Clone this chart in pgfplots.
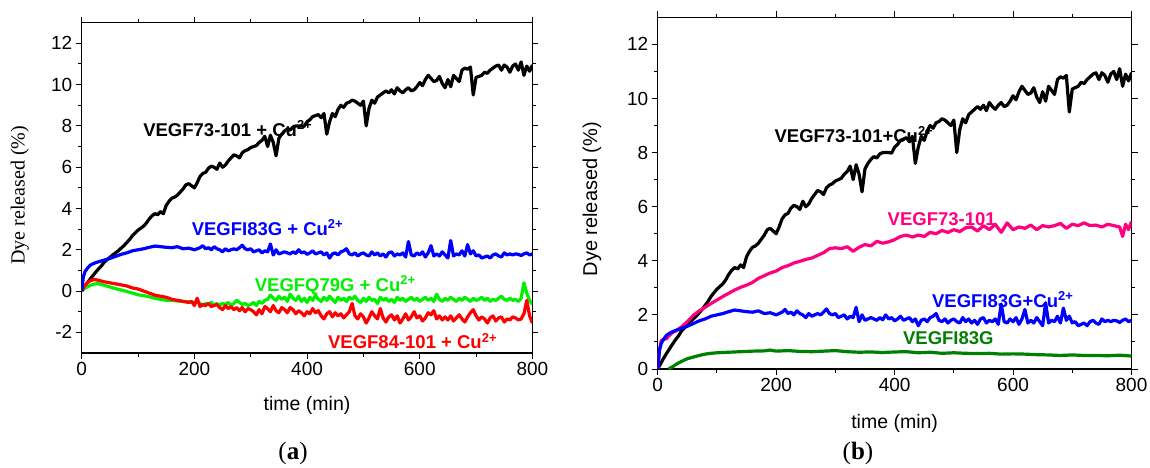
\documentclass[border=0pt]{standalone}
\usepackage{pgfplots}
\usepackage{pgfplotstable}
\pgfplotsset{compat=1.18}
\usepackage{fontspec}
\setmainfont{Liberation Sans}
\newfontfamily\tnr{Liberation Serif}
\definecolor{cblue}{RGB}{0,0,255}
\definecolor{cred}{RGB}{255,0,0}
\definecolor{clime}{RGB}{0,240,0}
\definecolor{cpink}{RGB}{255,0,128}
\definecolor{cdgreen}{RGB}{0,128,0}

\pgfplotstableread{
x y
0 0
5 0.2
10 0.4
15 0.58
20 0.75
25 0.92
30 1.08
35 1.22
40 1.4
45 1.52
50 1.63
55 1.75
60 1.85
65 1.95
70 2.08
75 2.2
80 2.35
85 2.5
90 2.68
95 2.82
100 2.95
105 3.05
110 3.15
115 3.3
120 3.5
125 3.65
130 3.75
135 3.7
140 3.85
145 3.75
150 4.15
155 4.35
160 4.5
165 4.55
170 4.65
175 4.8
180 4.95
185 5.15
190 5.2
195 5.1
200 5.0
205 5.25
210 5.55
215 5.7
220 5.75
225 5.95
230 6.05
235 6.0
240 5.9
245 6.2
250 6.0
255 6.1
260 6.3
265 6.45
270 6.6
275 6.55
280 6.45
285 6.7
290 6.8
295 6.85
300 6.95
305 7.0
310 7.05
315 7.2
320 7.3
325 7.5
330 7.0
335 7.55
340 7.2
345 6.55
350 7.4
355 7.6
360 7.75
365 7.85
370 7.8
375 7.95
380 8.0
385 8.0
390 8.0
395 7.98
400 8.2
405 8.3
410 8.45
415 8.5
420 8.55
425 8.4
430 8.6
435 7.6
440 8.2
445 8.6
450 8.45
455 8.8
460 9.0
465 8.9
470 9.1
475 9.15
480 9.25
485 9.2
490 9.1
495 9.0
500 9.2
505 8.0
510 8.85
515 9.25
520 9.1
525 9.4
530 9.5
535 9.6
540 9.7
545 9.6
550 9.75
555 9.55
560 9.85
565 9.7
570 9.6
575 9.75
580 9.85
585 9.7
590 9.75
595 9.9
600 10.1
605 9.95
610 10.25
615 10.45
620 10.3
625 10.15
630 10.2
635 10.4
640 10.05
645 9.85
650 10.25
655 9.9
660 10.45
665 10.3
670 10.15
675 10.7
680 10.8
685 10.75
690 10.85
695 9.5
700 10.35
705 10.4
710 10.45
715 10.6
720 10.55
725 10.7
730 10.8
735 10.9
740 10.95
745 10.7
750 10.95
755 10.85
760 10.6
765 10.9
770 11.0
775 10.7
780 11.1
785 10.45
790 10.9
795 10.65
800 10.95
}\blackdata

\pgfplotstableread{
x y
0 0
3 0.7
6 0.95
10 1.1
15 1.25
20 1.32
25 1.38
30 1.42
40 1.5
50 1.58
60 1.68
70 1.78
80 1.85
90 1.95
100 2.0
110 2.05
120 2.12
130 2.18
140 2.15
150 2.12
160 2.1
170 2.15
180 2.05
190 2.08
200 2.0
205 2.05
210 2.1
215 2.2
220 2.05
225 2.1
230 2.0
235 2.15
240 2.05
245 2.0
250 1.9
255 2.05
260 1.95
265 2.0
270 2.05
275 2.0
280 2.1
285 2.22
290 2.05
295 2.0
300 2.05
305 1.9
310 1.95
315 2.0
320 1.85
325 1.95
330 1.9
335 2.28
340 1.75
345 2.0
350 1.8
355 1.85
360 1.9
365 1.85
370 1.8
375 1.9
380 1.82
385 2.0
390 1.85
395 1.9
400 1.78
405 1.85
410 1.95
415 1.8
420 1.85
425 1.9
430 1.75
435 1.85
440 1.6
445 1.8
450 1.85
455 1.75
460 1.9
465 1.95
470 2.05
475 1.8
480 1.75
485 1.85
490 1.7
495 1.8
500 1.85
505 1.75
510 1.7
515 1.9
520 1.75
525 1.85
530 1.7
535 1.8
540 1.65
545 1.85
550 1.9
555 1.7
560 1.8
565 1.75
570 1.85
575 1.65
580 2.4
585 1.75
590 1.7
595 1.85
600 1.75
605 1.9
610 1.65
615 1.85
620 2.2
625 1.7
630 1.8
635 1.7
640 1.9
645 1.75
650 1.6
655 2.45
660 1.7
665 1.8
670 1.75
675 1.95
680 1.7
685 2.25
690 1.8
695 1.95
700 1.7
705 1.75
710 1.6
715 1.65
720 1.7
725 1.6
730 1.75
735 1.8
740 1.7
745 1.65
750 1.85
755 1.75
760 1.8
765 1.75
770 1.8
775 1.78
780 1.72
785 1.8
790 1.85
795 1.75
800 1.8
}\bluedata

\pgfplotstableread{
x y
0 0
5 0.25
10 0.4
15 0.5
20 0.55
25 0.55
30 0.52
40 0.45
50 0.4
60 0.35
70 0.3
80 0.25
90 0.15
100 0.1
110 0.0
120 -0.1
130 -0.2
140 -0.25
150 -0.3
160 -0.4
170 -0.45
180 -0.5
190 -0.55
195 -0.5
200 -0.7
205 -0.35
210 -0.75
215 -0.65
220 -0.7
225 -0.6
230 -0.75
240 -0.65
245 -0.8
250 -0.9
255 -0.7
260 -0.85
265 -0.75
270 -0.9
275 -0.8
280 -0.95
285 -0.8
290 -1.0
295 -0.85
300 -0.9
305 -1.0
310 -1.15
315 -0.9
320 -1.1
325 -0.75
330 -0.85
335 -1.0
340 -0.7
345 -0.95
350 -1.05
355 -0.8
360 -0.9
365 -1.05
370 -0.8
375 -0.9
380 -1.1
385 -0.95
390 -1.05
395 -1.2
400 -1.0
405 -1.1
410 -0.85
415 -1.05
420 -0.95
425 -1.2
430 -1.35
435 -1.1
440 -1.0
445 -1.25
450 -1.05
455 -1.2
460 -1.1
465 -1.3
470 -1.15
475 -1.0
480 -0.6
485 -1.2
490 -1.35
495 -1.1
500 -1.25
505 -1.55
510 -1.3
515 -1.0
520 -1.2
525 -1.35
530 -0.85
535 -1.3
540 -1.5
545 -1.25
550 -1.15
555 -1.4
560 -1.2
565 -1.55
570 -1.35
575 -1.1
580 -1.4
585 -1.25
590 -1.0
595 -1.3
600 -1.2
605 -1.45
610 -1.3
615 -1.05
620 -1.15
625 -0.95
630 -1.35
635 -1.2
640 -1.4
645 -1.25
650 -1.4
655 -1.2
660 -1.45
665 -1.3
670 -1.15
675 -1.35
680 -1.5
685 -1.25
690 -1.05
695 -0.9
700 -1.2
705 -1.4
710 -1.25
715 -1.35
720 -1.55
725 -1.3
730 -1.2
735 -1.45
740 -1.3
745 -1.25
750 -1.5
755 -1.35
760 -1.4
765 -1.25
770 -1.3
775 -1.4
780 -1.35
785 -1.1
790 -0.45
795 -1.2
800 -1.55
}\reddata

\pgfplotstableread{
x y
0 0
5 0.12
10 0.2
15 0.27
20 0.32
25 0.35
30 0.35
35 0.32
40 0.28
50 0.2
60 0.12
70 0.05
80 -0.02
90 -0.1
100 -0.18
110 -0.22
120 -0.28
130 -0.35
140 -0.4
150 -0.45
160 -0.45
170 -0.48
180 -0.5
190 -0.52
200 -0.55
205 -0.5
210 -0.6
215 -0.7
220 -0.6
225 -0.65
230 -0.55
235 -0.68
240 -0.6
245 -0.7
250 -0.6
255 -0.65
260 -0.55
265 -0.7
270 -0.6
275 -0.45
280 -0.55
285 -0.65
290 -0.6
295 -0.7
300 -0.65
305 -0.55
310 -0.7
315 -0.5
320 -0.6
325 -0.45
330 -0.4
335 -0.2
340 -0.35
345 -0.45
350 -0.25
355 -0.4
360 -0.3
365 -0.5
370 -0.15
375 -0.35
380 -0.45
385 -0.25
390 -0.5
395 -0.35
400 -0.55
405 -0.3
410 -0.45
415 -0.2
420 -0.4
425 -0.5
430 -0.3
435 -0.45
440 -0.25
445 -0.4
450 -0.55
455 -0.3
460 -0.45
465 -0.35
470 -0.5
475 -0.3
480 -0.4
485 -0.25
490 -0.45
495 -0.55
500 -0.35
505 -0.5
510 -0.3
515 -0.45
520 -0.4
525 -0.6
530 -0.3
535 -0.45
540 -0.35
545 -0.5
550 -0.4
555 -0.55
560 -0.3
565 -0.45
570 -0.35
575 -0.5
580 -0.4
585 -0.3
590 -0.45
595 -0.35
600 -0.5
605 -0.4
610 -0.3
615 -0.45
620 -0.35
625 -0.5
630 -0.15
635 -0.4
640 -0.5
645 -0.35
650 -0.45
655 -0.3
660 -0.4
665 -0.5
670 -0.35
675 -0.45
680 -0.3
685 -0.4
690 -0.5
695 -0.35
700 -0.45
705 -0.4
710 -0.3
715 -0.45
720 -0.35
725 -0.5
730 -0.4
735 -0.45
740 -0.35
745 -0.25
750 -0.4
755 -0.45
760 -0.35
765 -0.45
770 -0.4
775 -0.5
780 -0.35
785 0.4
790 -0.1
795 -0.45
800 -0.65
}\greendata

\pgfplotstableread{
x y
0 0
3 0.7
6 1.05
10 1.1
15 1.12
20 1.25
25 1.35
30 1.4
35 1.48
40 1.55
50 1.75
60 1.98
70 2.15
80 2.28
90 2.42
100 2.55
110 2.68
120 2.8
130 2.92
140 3.02
150 3.1
160 3.2
170 3.35
180 3.45
190 3.55
200 3.62
210 3.75
220 3.82
230 3.92
240 3.98
250 4.05
260 4.1
270 4.2
280 4.3
290 4.45
300 4.48
310 4.45
320 4.52
330 4.35
340 4.5
350 4.6
360 4.55
370 4.72
380 4.65
390 4.7
400 4.78
410 4.9
420 4.95
430 4.88
440 4.95
450 4.9
460 5.05
470 5.0
480 5.12
490 5.05
500 5.15
510 5.08
520 5.22
530 5.25
540 5.1
550 5.3
560 5.15
570 5.35
580 5.05
590 5.4
600 5.15
610 5.25
620 5.2
630 5.32
640 5.15
650 5.3
660 5.25
670 5.3
680 5.38
690 5.2
700 5.35
710 5.3
720 5.4
730 5.3
740 5.32
750 5.25
760 5.35
770 5.3
780 5.25
785 4.9
790 5.35
795 5.15
800 5.45
}\pinkdata

\pgfplotstableread{
x y
18 0
25 0.08
30 0.16
40 0.28
50 0.38
60 0.44
70 0.5
80 0.55
90 0.58
100 0.6
120 0.62
140 0.64
160 0.66
180 0.67
190 0.7
200 0.66
220 0.68
240 0.65
260 0.64
280 0.66
300 0.68
320 0.64
340 0.62
360 0.63
380 0.61
400 0.63
420 0.64
440 0.6
460 0.62
480 0.58
500 0.6
520 0.58
540 0.57
560 0.58
580 0.55
600 0.56
620 0.55
640 0.53
660 0.52
680 0.5
700 0.52
720 0.5
740 0.5
760 0.49
780 0.51
800 0.48
}\dgreendata

\begin{document}
\begin{tikzpicture}
\path[use as bounding box] (0,0) rectangle (1150pt,467pt);
\pgfplotsset{
  common/.style={
    scale only axis,
    xmin=0, xmax=800,
    xtick={0,200,...,800}, minor x tick num=1,
    minor y tick num=1,
    tick align=outside,
    major tick length=6pt, minor tick length=3.5pt,
    axis line style={line width=1.1pt},
    every tick/.style={line width=1pt, black},
    /pgf/number format/assume math mode=true,
    tick label style={font=\fontsize{19}{21}\selectfont},
    label style={font=\fontsize{19.5}{22}\selectfont},
    every axis plot/.append style={line width=3.2pt, line join=round},
  }
}
% panel (a)
\begin{axis}[common,
  at={(81.7pt,114pt)}, anchor=south west,
  width=450.7pt, height=330.3pt,
  ymin=-3, ymax=13, ytick={-2,0,...,12},
  xlabel={time (min)},
  xlabel style={at={(axis description cs:0.5,-0.160)}, anchor=center},
  ylabel={\tnr Dye released (\%)},
  ylabel style={at={(axis description cs:-0.137,0.478)}, anchor=center, font=\fontsize{20}{22}\selectfont},
]
\addplot[black] table {\blackdata};
\addplot[clime] table {\greendata};
\addplot[cred] table {\reddata};
\addplot[cblue] table {\bluedata};
\node[anchor=base west, inner sep=0pt, font=\fontsize{18.5}{20}\selectfont\bfseries] at (axis cs:109,7.5) {VEGF73-101 + Cu\textsuperscript{2+}};
\node[anchor=base west, inner sep=0pt, text=cblue, font=\fontsize{18.5}{20}\selectfont\bfseries] at (axis cs:195,2.71) {VEGFI83G + Cu\textsuperscript{2+}};
\node[anchor=base west, inner sep=0pt, text=clime, font=\fontsize{18.5}{20}\selectfont\bfseries] at (axis cs:307,0.0) {VEGFQ79G + Cu\textsuperscript{2+}};
\node[anchor=base west, inner sep=0pt, text=cred, font=\fontsize{18.5}{20}\selectfont\bfseries] at (axis cs:437,-2.8) {VEGF84-101 + Cu\textsuperscript{2+}};
\end{axis}
% panel (b)
\begin{axis}[common,
  at={(657.7pt,98pt)}, anchor=south west,
  width=473.8pt, height=351.7pt,
  ymin=0, ymax=13, ytick={0,2,...,12},
  xlabel={time (min)},
  xlabel style={at={(axis description cs:0.5,-0.156)}, anchor=center},
  ylabel={Dye released (\%)},
  ylabel style={at={(axis description cs:-0.139,0.483)}, anchor=center, font=\fontsize{20}{22}\selectfont},
]
\addplot[black] table {\blackdata};
\addplot[cpink] table {\pinkdata};
\addplot[cdgreen] table {\dgreendata};
\addplot[cblue] table {\bluedata};
\node[anchor=base west, inner sep=0pt, font=\fontsize{18.5}{20}\selectfont\bfseries] at (axis cs:197,8.39) {VEGF73-101+Cu\textsuperscript{2+}};
\node[anchor=base west, inner sep=0pt, text=cpink, font=\fontsize{18.5}{20}\selectfont\bfseries] at (axis cs:388,5.32) {VEGF73-101};
\node[anchor=base west, inner sep=0pt, text=cblue, font=\fontsize{18.5}{20}\selectfont\bfseries] at (axis cs:463,2.29) {VEGFI83G+Cu\textsuperscript{2+}};
\node[anchor=base west, inner sep=0pt, text=cdgreen, font=\fontsize{18.5}{20}\selectfont\bfseries] at (axis cs:414,0.89) {VEGFI83G};
\end{axis}
\node[font=\tnr\fontsize{25}{27}\selectfont] at (293pt,14pt) {(\textbf{a})};
\node[font=\tnr\fontsize{25}{27}\selectfont] at (858pt,14pt) {(\textbf{b})};
\end{tikzpicture}
\end{document}
